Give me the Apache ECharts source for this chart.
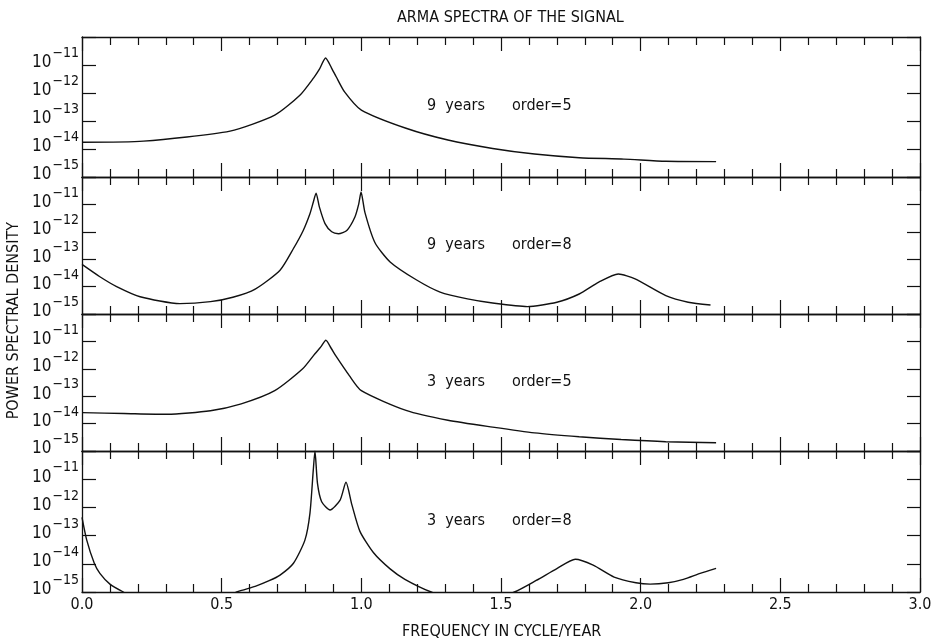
<!DOCTYPE html>
<html>
<head>
<meta charset="utf-8">
<script src="https://cdn.jsdelivr.net/npm/echarts@6/dist/echarts.min.js"></script>
<style>
  html, body { margin: 0; padding: 0; background: #fff; }
  #chart { width: 932px; height: 644px; }
</style>
</head>
<body>
<div id="chart"></div>
<script>
// values: frequency (cycle/year) and log10 of power spectral density
var p1Freq = [0, 0.22, 0.53, 0.69, 0.78, 0.83, 0.85, 0.872, 0.893, 0.91, 0.94, 1.0, 1.16, 1.31, 1.47, 1.62, 1.78, 1.94, 2.09, 2.27];
var p1Exp  = [-13.76, -13.72, -13.36, -12.79, -12.08, -11.45, -11.15, -10.75, -11.1, -11.42, -11.96, -12.61, -13.26, -13.68, -13.98, -14.18, -14.31, -14.36, -14.44, -14.45];

var p2Freq = [0, 0.064, 0.124, 0.208, 0.35, 0.46, 0.54, 0.62, 0.709, 0.757, 0.792, 0.816, 0.828, 0.838, 0.85, 0.87, 0.894, 0.918, 0.948, 0.977, 0.991, 0.999, 1.013, 1.049, 1.103, 1.198, 1.282, 1.38, 1.47, 1.594, 1.70, 1.78, 1.85, 1.92, 1.98, 2.09, 2.17, 2.25];
var p2Exp  = [-13.19, -13.64, -14.0, -14.37, -14.62, -14.55, -14.39, -14.09, -13.4, -12.61, -11.95, -11.34, -10.92, -10.59, -11.1, -11.7, -12.0, -12.07, -11.95, -11.46, -10.97, -10.55, -11.3, -12.4, -13.1, -13.76, -14.2, -14.45, -14.6, -14.73, -14.57, -14.27, -13.84, -13.54, -13.72, -14.33, -14.57, -14.67];

var p3Freq = [0, 0.15, 0.305, 0.46, 0.57, 0.69, 0.79, 0.834, 0.855, 0.873, 0.892, 0.91, 0.957, 1.0, 1.16, 1.31, 1.47, 1.62, 1.78, 1.93, 2.09, 2.27];
var p3Exp  = [-13.6, -13.63, -13.66, -13.53, -13.28, -12.8, -12.0, -11.45, -11.2, -10.96, -11.25, -11.55, -12.25, -12.8, -13.52, -13.88, -14.13, -14.34, -14.48, -14.58, -14.66, -14.7];

var p4Freq = [0, 0.017, 0.044, 0.064, 0.1, 0.148, 0.25, 0.4, 0.554, 0.62, 0.67, 0.709, 0.757, 0.798, 0.816, 0.828, 0.834, 0.843, 0.858, 0.888, 0.924, 0.945, 0.966, 0.995, 1.043, 1.103, 1.156, 1.25, 1.4, 1.548, 1.626, 1.70, 1.766, 1.83, 1.905, 1.983, 2.034, 2.099, 2.153, 2.213, 2.27];
var p4Exp  = [-12.35, -13.16, -13.98, -14.34, -14.72, -15.0, -15.5, -15.7, -15.0, -14.8, -14.6, -14.4, -13.98, -13.16, -12.21, -10.67, -10.0, -11.15, -11.8, -12.09, -11.74, -11.11, -11.9, -12.85, -13.6, -14.18, -14.55, -15.0, -15.5, -15.0, -14.59, -14.17, -13.84, -14.05, -14.47, -14.67, -14.72, -14.67, -14.55, -14.34, -14.16];

var panelLabels = [['9  years', 'order=5'], ['9  years', 'order=8'], ['3  years', 'order=5'], ['3  years', 'order=8']];
var yTicks = [-15, -14, -13, -12, -11, -10];
var xTicks = ['0.0', '0.5', '1.0', '1.5', '2.0', '2.5', '3.0'];

var panels = [[p1Freq, p1Exp], [p2Freq, p2Exp], [p3Freq, p3Exp], [p4Freq, p4Exp]];
var tops = [37, 177, 314, 451];
var heights = [140, 137, 137, 141];

var FONT = '"Liberation Sans Narrow", "DejaVu Sans Condensed", "Liberation Sans", sans-serif';
var INK = '#111';

var myChart = echarts.init(document.getElementById('chart'));

var grids = [], xAxes = [], yAxes = [], series = [], graphics = [];

panels.forEach(function (p, i) {
    grids.push({ left: 82, right: 12, top: tops[i], height: heights[i], outerBoundsMode: 'none', containLabel: false });

    // bottom and top frequency axes
    ['bottom', 'top'].forEach(function (pos) {
        xAxes.push({
            type: 'value', gridIndex: i, position: pos,
            min: 0, max: 3, interval: 0.5,
            axisLine: { show: true, onZero: false, lineStyle: { color: INK, width: 1.3 } },
            axisTick: { show: true, inside: true, length: 14, lineStyle: { color: INK, width: 1.2 } },
            minorTick: { show: true, splitNumber: 5, length: 8, lineStyle: { color: INK, width: 1.2 } },
            splitLine: { show: false },
            axisLabel: {
                show: pos === 'bottom' && i === 3,
                margin: 5,
                fontFamily: FONT, fontSize: 16, color: INK,
                formatter: function (v) { return xTicks[Math.round(v * 2)]; }
            }
        });
    });

    // left and right density axes (log10 units)
    ['left', 'right'].forEach(function (pos) {
        yAxes.push({
            type: 'value', gridIndex: i, position: pos,
            min: yTicks[0], max: yTicks[yTicks.length - 1], interval: 1,
            axisLine: { show: true, onZero: false, lineStyle: { color: INK, width: 1.3 } },
            axisTick: { show: true, inside: true, length: pos === 'left' ? 14 : 13, lineStyle: { color: INK, width: 1.2 } },
            splitLine: { show: false },
            axisLabel: {
                show: pos === 'left',
                margin: 3,
                padding: [0, 0, 12, 0],
                formatter: function (v) {
                    if (v === -10) return '';
                    return '{b|10}{s|\u2212' + Math.abs(v) + '}';
                },
                rich: {
                    b: { fontFamily: FONT, fontSize: 17, color: INK, lineHeight: 17, padding: [8, 0, 0, 0] },
                    s: { fontFamily: FONT, fontSize: 14, color: INK, lineHeight: 14, padding: [0, 0, 11, 1] }
                }
            }
        });
    });

    series.push({
        type: 'line',
        xAxisIndex: i * 2, yAxisIndex: i * 2,
        data: p[0].map(function (f, k) { return [f, p[1][k]]; }),
        showSymbol: false,
        smooth: 0.22,
        clip: true,
        lineStyle: { color: INK, width: 1.4 },
        silent: true
    });

    var ty = tops[i] + heights[i] * 0.5;
    graphics.push({ type: 'text', left: 427, top: ty - 9, style: { text: panelLabels[i][0], font: '16px ' + FONT, fill: INK } });
    graphics.push({ type: 'text', left: 512, top: ty - 9, style: { text: panelLabels[i][1], font: '16px ' + FONT, fill: INK } });
});

graphics.push({
    type: 'text', left: 6, top: 222, rotation: Math.PI / 2,
    style: { text: 'POWER SPECTRAL DENSITY', font: '16px ' + FONT, fill: INK }
});
graphics.push({
    type: 'text', left: 402, top: 624,
    style: { text: 'FREQUENCY IN CYCLE/YEAR', font: '16px ' + FONT, fill: INK }
});

var option = {
    backgroundColor: '#fff',
    animation: false,
    title: {
        text: 'ARMA SPECTRA OF THE SIGNAL',
        left: 392, top: 5,
        textStyle: { fontFamily: FONT, fontSize: 16, fontWeight: 'normal', color: INK }
    },
    grid: grids,
    xAxis: xAxes,
    yAxis: yAxes,
    series: series,
    graphic: graphics
};
myChart.setOption(option);
</script>
</body>
</html>
